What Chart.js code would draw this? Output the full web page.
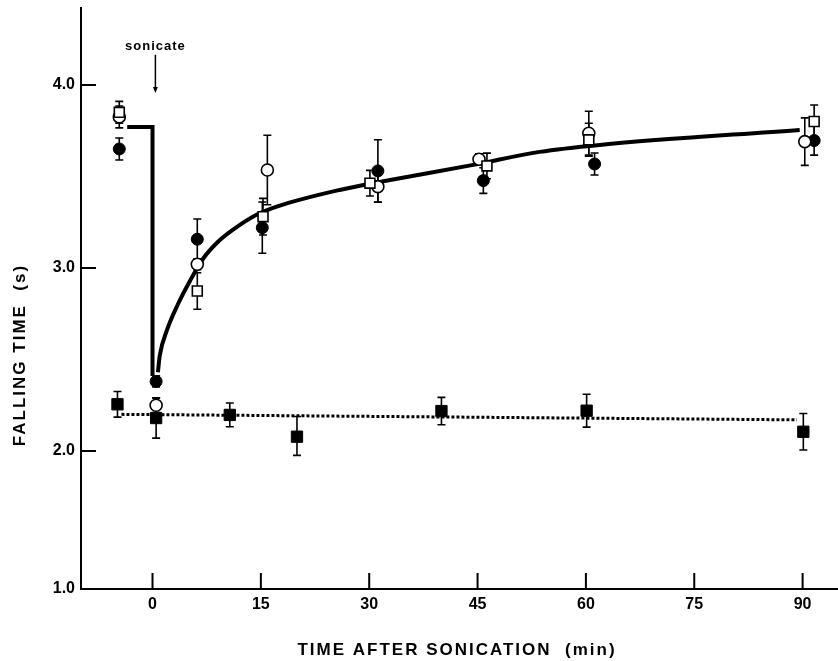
<!DOCTYPE html>
<html>
<head>
<meta charset="utf-8">
<script src="https://cdn.jsdelivr.net/npm/chart.js@4"></script>
<style>
  html, body { margin: 0; padding: 0; background: #fff; }
  canvas { display: block; }
</style>
</head>
<body>
<canvas id="chart" width="838" height="661"></canvas>
<script>
// tick values
const xTicks = [0, 15, 30, 45, 60, 75, 90];
const yTicks = [1, 2, 3, 4];

// open circles
const openCircleT = [-4.6, 0.5, 6.2, 15.9, 31.2, 45.2, 60.4, 90.3];
const openCircleV = [3.825, 2.25, 3.02, 3.535, 3.444, 3.594, 3.736, 3.69];
const openCircleErr = [0.06, 0.04, 0.03, 0.19, 0.085, 0.03, 0.12, 0.13];

// filled circles
const fillCircleT = [-4.6, 0.5, 6.2, 15.2, 31.2, 45.8, 61.2, 91.6];
const fillCircleV = [3.65, 2.38, 3.157, 3.22, 3.53, 3.477, 3.568, 3.696];
const fillCircleErr = [0.06, 0.03, 0.11, 0.14, 0.17, 0.07, 0.06, 0.08];

// open squares
const openSquareT = [-4.6, 6.2, 15.3, 30.1, 46.3, 60.4, 91.6];
const openSquareV = [3.85, 2.874, 3.28, 3.463, 3.557, 3.70, 3.80];
const openSquareErr = [0.06, 0.1, 0.1, 0.07, 0.07, 0.09, 0.09];

// filled squares (control)
const fillSquareT = [-4.85, 0.5, 10.7, 20.0, 40.0, 60.1, 90.1];
const fillSquareV = [2.255, 2.18, 2.197, 2.078, 2.218, 2.22, 2.105];
const fillSquareErr = [0.07, 0.11, 0.065, 0.11, 0.075, 0.09, 0.1];

// drawn curves
const stepT = [-3.5, 0, 0];
const stepV = [3.77, 3.77, 2.41];
const recoveryT = [0.75, 1.0, 2.0, 3.5, 5.2, 7.0, 9.0, 11.2, 14.4, 17.2, 25.9, 32.9, 44.4, 53.6, 61.9, 89.6];
const recoveryV = [2.43, 2.52, 2.66, 2.80, 2.93, 3.05, 3.14, 3.21, 3.29, 3.335, 3.426, 3.48, 3.563, 3.634, 3.672, 3.754];
const controlT = [-4.3, 89.2];
const controlV = [2.20, 2.17];

const pts = (xs, ys) => xs.map((x, i) => ({x, y: ys[i]}));

// y axis in the figure is squeezed below 2.0
const lowScale = 138 / 183;
class BrokenScale extends Chart.LinearScale {
  static id = 'broken';
  static defaults = Chart.LinearScale.defaults;
  warp(v) { return v >= 2 ? v : 2 - (2 - v) * lowScale; }
  getPixelForValue(v) {
    const a = this.warp(this.min), b = this.warp(this.max);
    return this.getPixelForDecimal((this.warp(v) - a) / (b - a));
  }
  getValueForPixel(p) {
    const a = this.warp(this.min), b = this.warp(this.max);
    const u = a + this.getDecimalForPixel(p) * (b - a);
    return u >= 2 ? u : 2 - (2 - u) / lowScale;
  }
}
Chart.register(BrokenScale);

const fontFam = '"Liberation Sans", Arial, sans-serif';
const tickFont = {family: fontFam, size: 16, weight: 'bold'};

const figurePlugin = {
  id: 'figure',
  beforeDatasetsDraw(chart) {
    const {ctx, scales: {x, y}} = chart;
    ctx.save();
    ctx.strokeStyle = '#000';
    ctx.lineWidth = 1.6;
    chart.data.datasets.forEach(ds => {
      if (!ds.err) return;
      ds.data.forEach((p, i) => {
        const px = x.getPixelForValue(p.x);
        const top = y.getPixelForValue(p.y + ds.err[i]);
        const bot = y.getPixelForValue(p.y - ds.err[i]);
        ctx.beginPath();
        ctx.moveTo(px, top); ctx.lineTo(px, bot);
        ctx.moveTo(px - 4, top); ctx.lineTo(px + 4, top);
        ctx.moveTo(px - 4, bot); ctx.lineTo(px + 4, bot);
        ctx.stroke();
      });
    });
    ctx.restore();
  },
  afterDraw(chart) {
    const {ctx, chartArea: area, scales: {x, y}} = chart;
    ctx.save();
    ctx.strokeStyle = '#000';
    ctx.fillStyle = '#000';
    ctx.lineWidth = 2;
    // inward ticks
    ctx.beginPath();
    x.ticks.forEach(t => {
      const px = x.getPixelForValue(t.value);
      ctx.moveTo(px, area.bottom); ctx.lineTo(px, area.bottom - 16);
    });
    y.ticks.forEach(t => {
      if (t.value <= y.min) return;
      const py = y.getPixelForValue(t.value);
      ctx.moveTo(area.left, py); ctx.lineTo(area.left + 15, py);
    });
    ctx.stroke();

    // sonicate marker
    const sx = x.getPixelForValue(0.4);
    ctx.font = 'bold 13px ' + fontFam;
    ctx.letterSpacing = '1px';
    ctx.textAlign = 'center';
    ctx.textBaseline = 'middle';
    ctx.fillText('sonicate', sx, y.getPixelForValue(4.21));
    const a0 = y.getPixelForValue(4.165), a1 = y.getPixelForValue(3.956);
    ctx.lineWidth = 1.5;
    ctx.beginPath();
    ctx.moveTo(sx, a0); ctx.lineTo(sx, a1 - 5);
    ctx.stroke();
    ctx.beginPath();
    ctx.moveTo(sx - 2.5, a1 - 6); ctx.lineTo(sx + 2.5, a1 - 6); ctx.lineTo(sx, a1);
    ctx.closePath();
    ctx.fill();

    // axis titles
    ctx.font = 'bold 17px ' + fontFam;
    ctx.letterSpacing = '2px';
    ctx.fillText('TIME AFTER SONICATION  (min)', 457, 650);
    ctx.translate(20, 355);
    ctx.rotate(-Math.PI / 2);
    ctx.fillText('FALLING TIME  (s)', 0, 0);
    ctx.restore();
  }
};

new Chart(document.getElementById('chart').getContext('2d'), {
  type: 'scatter',
  data: {
    datasets: [
      {data: pts(openSquareT, openSquareV), err: openSquareErr, order: 0,
       pointStyle: 'rect', pointRadius: 7, backgroundColor: '#fff', borderColor: '#000', borderWidth: 1.6},
      {data: pts(openCircleT, openCircleV), err: openCircleErr, order: 0,
       pointStyle: 'circle', pointRadius: 6, backgroundColor: '#fff', borderColor: '#000', borderWidth: 1.6},
      {data: pts(fillCircleT, fillCircleV), err: fillCircleErr, order: 0,
       pointStyle: 'circle', pointRadius: 6, backgroundColor: '#000', borderColor: '#000', borderWidth: 1},
      {data: pts(fillSquareT, fillSquareV), err: fillSquareErr, order: 0,
       pointStyle: 'rect', pointRadius: 8, backgroundColor: '#000', borderColor: '#000', borderWidth: 1},
      {data: pts(stepT, stepV), order: 1, showLine: true, pointRadius: 0,
       borderColor: '#000', borderWidth: 4, borderCapStyle: 'butt'},
      {data: pts(recoveryT, recoveryV), order: 1, showLine: true, pointRadius: 0,
       borderColor: '#000', borderWidth: 4, cubicInterpolationMode: 'monotone'},
      {data: pts(controlT, controlV), order: 1, showLine: true, pointRadius: 0,
       borderColor: '#000', borderWidth: 3, borderDash: [3, 2]}
    ]
  },
  options: {
    responsive: false,
    animation: false,
    layout: {autoPadding: false, padding: {top: 8, right: 0, left: 0, bottom: 0}},
    plugins: {legend: {display: false}, tooltip: {enabled: false}},
    scales: {
      x: {
        type: 'linear', min: -9.9, max: 94.9,
        afterBuildTicks: s => { s.ticks = xTicks.map(v => ({value: v})); },
        afterFit: s => { s.height = 72; s.paddingLeft = 0; s.paddingRight = 0; },
        grid: {display: false, drawTicks: false},
        border: {color: '#000', width: 2},
        ticks: {color: '#000', font: tickFont, padding: 6, maxRotation: 0, callback: v => String(v)}
      },
      y: {
        type: 'broken', min: 1, max: 4.42,
        afterBuildTicks: s => { s.ticks = yTicks.map(v => ({value: v})); },
        afterFit: s => { s.width = 81; s.paddingTop = 0; s.paddingBottom = 0; },
        grid: {display: false, drawTicks: false},
        border: {color: '#000', width: 2},
        ticks: {color: '#000', font: tickFont, padding: 6, callback: v => v.toFixed(1)}
      }
    }
  },
  plugins: [figurePlugin]
});
</script>
</body>
</html>
